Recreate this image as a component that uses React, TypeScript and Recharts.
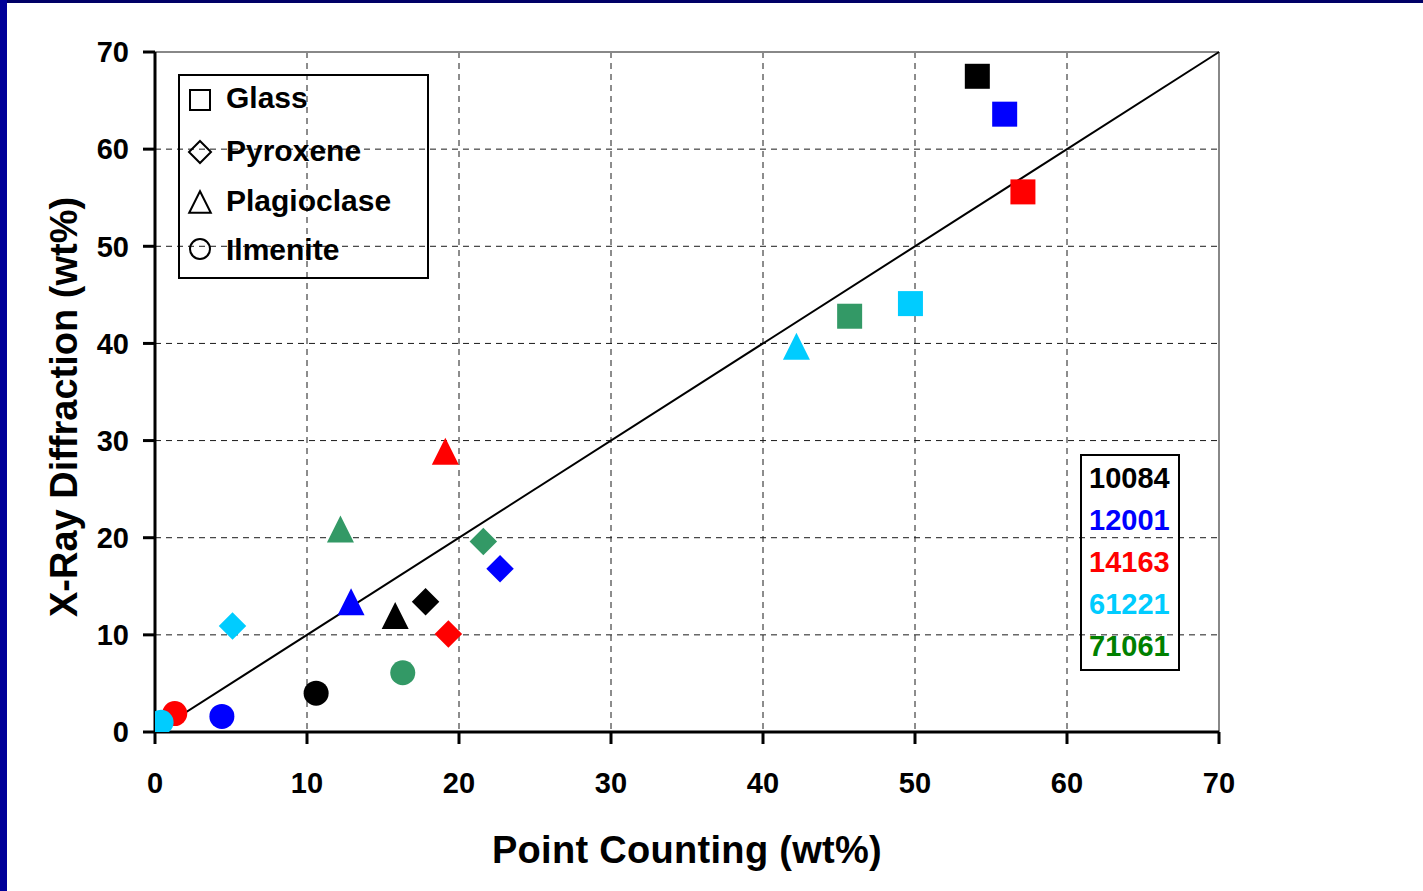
import React from "react";
import {
  ScatterChart, Scatter, XAxis, YAxis, CartesianGrid, ReferenceLine, Cell,
} from "recharts";

/* ── Data ───────────────────────────────────────────────────────── */
// Point counting (x) vs. X-ray diffraction (y), wt%
const samples = ["10084", "12001", "14163", "61221", "71061"];
const markerColors = ["#000000", "#0000FF", "#FF0000", "#00CCFF", "#339966"];
const labelColors = ["#000000", "#0000FF", "#FF0000", "#00CCFF", "#008000"];

const glass = [
  { sample: "10084", pc: 54.1, xrd: 67.5 },
  { sample: "12001", pc: 55.9, xrd: 63.6 },
  { sample: "14163", pc: 57.1, xrd: 55.6 },
  { sample: "61221", pc: 49.7, xrd: 44.1 },
  { sample: "71061", pc: 45.7, xrd: 42.8 },
];
const pyroxene = [
  { sample: "10084", pc: 17.8, xrd: 13.4 },
  { sample: "12001", pc: 22.7, xrd: 16.8 },
  { sample: "14163", pc: 19.3, xrd: 10.1 },
  { sample: "61221", pc: 5.1, xrd: 10.9 },
  { sample: "71061", pc: 21.6, xrd: 19.6 },
];
const plagioclase = [
  { sample: "10084", pc: 15.8, xrd: 12.0 },
  { sample: "12001", pc: 12.9, xrd: 13.4 },
  { sample: "14163", pc: 19.1, xrd: 28.9 },
  { sample: "61221", pc: 42.2, xrd: 39.7 },
  { sample: "71061", pc: 12.2, xrd: 20.9 },
];
const ilmenite = [
  { sample: "10084", pc: 10.6, xrd: 4.0 },
  { sample: "12001", pc: 4.4, xrd: 1.6 },
  { sample: "14163", pc: 1.3, xrd: 1.9 },
  { sample: "71061", pc: 16.3, xrd: 6.1 },
  { sample: "61221", pc: 0.4, xrd: 1.0 },
];
const oneToOne = [{ x: 0, y: 0 }, { x: 70, y: 70 }];
const ticks = [0, 10, 20, 30, 40, 50, 60, 70];
const gridTicks = [10, 20, 30, 40, 50, 60];

const minerals = [
  { name: "Glass", shape: "square", data: glass },
  { name: "Pyroxene", shape: "diamond", data: pyroxene },
  { name: "Plagioclase", shape: "triangle", data: plagioclase },
  { name: "Ilmenite", shape: "circle", data: ilmenite },
];

/* ── Styling ────────────────────────────────────────────────────── */
const FONT = '"Liberation Sans", Arial, Helvetica, sans-serif';
const colorOf = (s: string) => markerColors[samples.indexOf(s)];

function Marker({ kind, cx, cy, fill, r = 12.5, stroke, strokeWidth }: any) {
  const common = { fill, stroke, strokeWidth };
  if (kind === "square")
    return <rect x={cx - r} y={cy - r} width={2 * r} height={2 * r} {...common} />;
  if (kind === "diamond") {
    const d = r * 1.1;
    return <polygon points={`${cx},${cy - d} ${cx + d},${cy} ${cx},${cy + d} ${cx - d},${cy}`} {...common} />;
  }
  if (kind === "triangle") {
    const d = r * 1.08;
    return <polygon points={`${cx},${cy - d} ${cx + d},${cy + d} ${cx - d},${cy + d}`} {...common} />;
  }
  return <circle cx={cx} cy={cy} r={r} {...common} />;
}

const tickStyle = { fill: "#000", fontSize: 29, fontWeight: 700, fontFamily: FONT };

export default function App() {
  return (
    <div style={{ position: "absolute", left: 0, top: 0, width: 1423, height: 891, background: "#fff", fontFamily: FONT }}>
      {/* slide frame */}
      <div style={{ position: "absolute", left: 0, top: 0, width: 1423, height: 3, background: "#000066" }} />
      <div style={{ position: "absolute", left: 0, top: 0, width: 7, height: 891, background: "#000099" }} />

      <ScatterChart width={1423} height={891}
        margin={{ top: 52, right: 204, bottom: 99, left: 75 }}>
        <CartesianGrid stroke="#1a1a1a" strokeDasharray="6 5"
          horizontalValues={gridTicks} verticalValues={gridTicks} />
        <XAxis type="number" dataKey="pc" domain={[0, 70]} ticks={ticks} height={60}
          axisLine={{ stroke: "#000", strokeWidth: 3 }} tickLine={{ stroke: "#000", strokeWidth: 3 }}
          tickSize={12} tickMargin={28} tick={tickStyle} interval={0} allowDataOverflow />
        <YAxis type="number" dataKey="xrd" domain={[0, 70]} ticks={ticks} width={80}
          axisLine={{ stroke: "#000", strokeWidth: 3 }} tickLine={{ stroke: "#000", strokeWidth: 3 }}
          tickSize={12} tickMargin={14} tick={tickStyle} interval={0} allowDataOverflow />
        <ReferenceLine y={70} stroke="#888" strokeWidth={2} />
        <ReferenceLine x={70} stroke="#888" strokeWidth={2} />
        {minerals.map((m) => (
          <Scatter key={m.name} name={m.name} data={m.data} isAnimationActive={false}
            shape={(p: any) => <Marker kind={m.shape} cx={p.cx} cy={p.cy} fill={p.fill} />}>
            {m.data.map((d) => <Cell key={d.sample} fill={colorOf(d.sample)} />)}
          </Scatter>
        ))}
        <ReferenceLine segment={oneToOne} stroke="#000" strokeWidth={2} ifOverflow="visible" />

        {/* axis titles */}
        <text x={687} y={863} textAnchor="middle" fontSize={38} fontWeight={700} fontFamily={FONT}
          fill="#000" letterSpacing={0.3}>Point Counting (wt%)</text>
        <text transform="translate(77,407) rotate(-90)" textAnchor="middle" fontSize={38}
          fontWeight={700} fontFamily={FONT} fill="#000">X-Ray Diffraction (wt%)</text>
      </ScatterChart>

      {/* mineral legend */}
      <div style={{ position: "absolute", left: 178, top: 74, width: 247, height: 201, border: "2px solid #000" }}>
        {minerals.map((m, i) => (
          <div key={m.name} style={{ position: "absolute", left: 0, top: [22, 75, 125, 174][i] - 16, height: 32,
            display: "flex", alignItems: "center" }}>
            <svg width={44} height={32} style={{ display: "block" }}>
              <Marker kind={m.shape} cx={20} cy={[18, 17, 17, 15][i]} r={10} fill="none" stroke="#000" strokeWidth={2} />
            </svg>
            <span style={{ fontSize: 30, fontWeight: 700, marginLeft: 2 }}>{m.name}</span>
          </div>
        ))}
      </div>

      {/* sample legend */}
      <div style={{ position: "absolute", left: 1080, top: 454, width: 96, height: 213, border: "2px solid #000" }}>
        {samples.map((s, i) => (
          <div key={s} style={{ position: "absolute", left: 7, top: 6 + i * 42, height: 32, lineHeight: "32px",
            fontSize: 29, fontWeight: 700, color: labelColors[i] }}>{s}</div>
        ))}
      </div>
    </div>
  );
}
